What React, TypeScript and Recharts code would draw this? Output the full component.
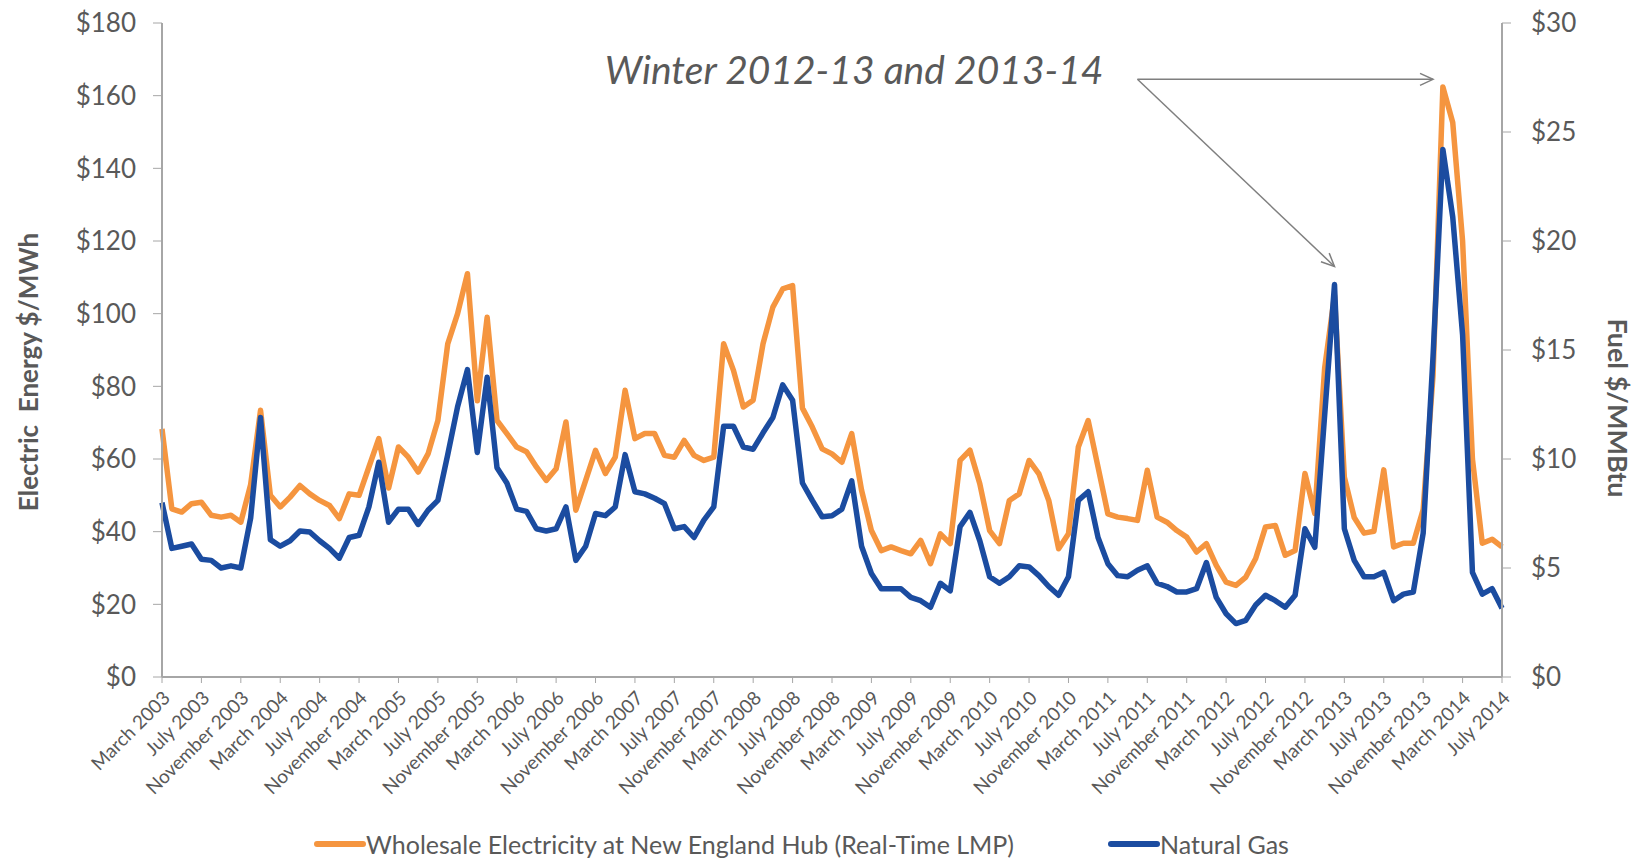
import React from "react";
import { LineChart, Line, XAxis, YAxis, ReferenceLine, Legend } from "recharts";

const MONTH_NAMES = [
  "January", "February", "March", "April", "May", "June",
  "July", "August", "September", "October", "November", "December",
];

// monthly, March 2003 .. July 2014
const FIRST_YEAR = 2003;
const FIRST_MONTH = 2; // March
const MONTH_COUNT = 137;

const ELECTRICITY = [
  68.3, 46.3, 45.4, 47.7, 48.1, 44.5, 44, 44.5, 42.6, 53,
  73.4, 50, 46.8, 49.5, 52.7, 50.4, 48.6, 47.2, 43.6, 50.4,
  50, 57.8, 65.6, 52, 63.3, 60.5, 56.4, 61.4, 70.6, 91.7,
  100, 111, 76, 99, 70.6, 67, 63.3, 62, 57.8, 54.1,
  57.3, 70.2, 45.9, 54.1, 62.4, 56, 60.5, 78.9, 65.6, 67,
  67, 61, 60.5, 65.1, 61, 59.6, 60.5, 91.7, 84.4, 74.3,
  76.2, 91.7, 101.8, 106.8, 107.7, 74, 68.8, 62.8, 61.4, 59.1,
  67, 51.4, 40.3, 34.8, 35.8, 34.8, 33.9, 37.6, 31.2, 39.4,
  36.7, 59.6, 62.4, 53.2, 40.3, 36.7, 48.6, 50.4, 59.6, 55.9,
  48.6, 35.3, 39.4, 63.3, 70.6, 57.8, 44.9, 44, 43.6, 43.1,
  56.9, 44, 42.6, 40.3, 38.5, 34.4, 36.7, 30.7, 26.1, 25.2,
  27.5, 32.6, 41.3, 41.7, 33.5, 34.8, 56, 45, 85, 105,
  55, 43.9, 39.6, 40.1, 57, 35.8, 36.8, 36.8, 46.1, 83,
  162.4, 152.6, 120, 60, 36.8, 37.9, 35.8,
];

const NATURAL_GAS = [
  8.0, 5.9, 6.0, 6.1, 5.4, 5.35, 5.0, 5.1, 5.0, 7.3,
  11.9, 6.3, 6.0, 6.25, 6.7, 6.65, 6.25, 5.9, 5.45, 6.4,
  6.5, 7.8, 9.85, 7.1, 7.7, 7.7, 7.0, 7.65, 8.1, 10.2,
  12.4, 14.1, 10.3, 13.75, 9.6, 8.9, 7.7, 7.6, 6.8, 6.7,
  6.8, 7.8, 5.35, 6.0, 7.5, 7.4, 7.8, 10.2, 8.5, 8.4,
  8.2, 7.95, 6.8, 6.9, 6.4, 7.2, 7.8, 11.5, 11.5, 10.55,
  10.45, 11.2, 11.9, 13.4, 12.7, 8.9, 8.1, 7.35, 7.4, 7.7,
  9.0, 6.0, 4.75, 4.05, 4.05, 4.05, 3.65, 3.5, 3.2, 4.3,
  3.95, 6.9, 7.55, 6.25, 4.6, 4.3, 4.6, 5.1, 5.05, 4.65,
  4.15, 3.75, 4.6, 8.1, 8.5, 6.4, 5.2, 4.65, 4.6, 4.9,
  5.1, 4.3, 4.15, 3.9, 3.9, 4.05, 5.25, 3.65, 2.9, 2.45,
  2.6, 3.3, 3.75, 3.5, 3.2, 3.75, 6.8, 5.95, 12.0, 18.0,
  6.8, 5.35, 4.6, 4.6, 4.8, 3.5, 3.8, 3.9, 6.6, 14.7,
  24.2, 21.1, 15.7, 4.8, 3.8, 4.05, 3.15,
];

const TICK_LABELS = [
  "March 2003", "July 2003", "November 2003",
  "March 2004", "July 2004", "November 2004",
  "March 2005", "July 2005", "November 2005",
  "March 2006", "July 2006", "November 2006",
  "March 2007", "July 2007", "November 2007",
  "March 2008", "July 2008", "November 2008",
  "March 2009", "July 2009", "November 2009",
  "March 2010", "July 2010", "November 2010",
  "March 2011", "July 2011", "November 2011",
  "March 2012", "July 2012", "November 2012",
  "March 2013", "July 2013", "November 2013",
  "March 2014", "July 2014",
];

const LEFT_TICKS = [0, 20, 40, 60, 80, 100, 120, 140, 160, 180];
const RIGHT_TICKS = [0, 5, 10, 15, 20, 25, 30];

const ELEC_NAME = "Wholesale Electricity at New England Hub (Real-Time LMP)";
const GAS_NAME = "Natural Gas";
const LEGEND_ORDER = [ELEC_NAME, GAS_NAME];

const ORANGE = "#F5953F";
const BLUE = "#1B4CA0";
const GREY = "#595959";
const AXIS = "#A6A6A6";
const FONT = "Lato, 'Open Sans', sans-serif";

const months = Array.from({ length: MONTH_COUNT }, (_, i) => {
  const m = FIRST_MONTH + i;
  return `${MONTH_NAMES[m % 12]} ${FIRST_YEAR + Math.floor(m / 12)}`;
});

const data = months.map((month, i) => ({
  month,
  lmp: ELECTRICITY[i],
  gas: NATURAL_GAS[i],
}));

function MonthTick({ x, y, payload }: any) {
  return (
    <g transform={`translate(${x + 4},${y + 9})`}>
      <text
        x={0}
        y={0}
        textAnchor="end"
        dominantBaseline="central"
        transform="rotate(-45)"
        fontSize={19}
        fontFamily={FONT}
        fill={GREY}
      >
        {payload.value}
      </text>
    </g>
  );
}

function LegendRow({ payload }: any) {
  const items = [...(payload || [])].sort(
    (a: any, b: any) => LEGEND_ORDER.indexOf(a.value) - LEGEND_ORDER.indexOf(b.value)
  );
  return (
    <div style={{ display: "flex", alignItems: "center", marginLeft: 314, height: 30 }}>
      {items.map((entry: any, i: number) => (
        <div key={entry.value} style={{ display: "flex", alignItems: "center", marginRight: i === 0 ? 94 : 0 }}>
          <div style={{ width: 52, height: 6, borderRadius: 3, background: entry.color }} />
          <span style={{ fontFamily: FONT, fontSize: 25, color: GREY, whiteSpace: "nowrap" }}>
            {entry.value}
          </span>
        </div>
      ))}
    </div>
  );
}

export default function App() {
  return (
    <div style={{ position: "absolute", left: 0, top: 0, width: 1639, height: 859, background: "#fff" }}>
      <LineChart width={1639} height={859} data={data} margin={{ top: 23, right: 0, bottom: 0, left: 0 }}>
        <defs>
          <marker
            id="openArrow"
            markerWidth={16}
            markerHeight={16}
            refX={14}
            refY={7}
            orient="auto"
            markerUnits="userSpaceOnUse"
          >
            <path d="M1,1 L14,7 L1,13" fill="none" stroke="#7F7F7F" strokeWidth={1.5} />
          </marker>
        </defs>
        <XAxis
          dataKey="month"
          ticks={TICK_LABELS}
          interval={0}
          height={152}
          tick={<MonthTick />}
          tickSize={6}
          tickLine={{ stroke: AXIS }}
          axisLine={{ stroke: AXIS, strokeWidth: 2 }}
        />
        <YAxis
          yAxisId="left"
          domain={[0, 180]}
          ticks={LEFT_TICKS}
          width={162}
          tickSize={9}
          tickMargin={17}
          tickFormatter={(v) => `$${v}`}
          tick={{ fill: GREY, fontSize: 26, fontFamily: FONT }}
          tickLine={{ stroke: AXIS }}
          axisLine={{ stroke: AXIS, strokeWidth: 2 }}
          label={{
            content: ({ viewBox }: any) => (
              <text
                transform={`translate(${viewBox.x + 28},${viewBox.y + viewBox.height / 2 + 22}) rotate(-90)`}
                textAnchor="middle"
                dominantBaseline="central"
                fontSize={26}
                fontWeight={700}
                fontFamily={FONT}
                fill={GREY}
                style={{ whiteSpace: "pre" }}
              >
                {"Electric  Energy $/MWh"}
              </text>
            ),
          }}
        />
        <YAxis
          yAxisId="right"
          orientation="right"
          domain={[0, 30]}
          ticks={RIGHT_TICKS}
          width={137}
          tickSize={9}
          tickMargin={20}
          tickFormatter={(v) => `$${v}`}
          tick={{ fill: GREY, fontSize: 26, fontFamily: FONT, textAnchor: "start" }}
          tickLine={{ stroke: AXIS }}
          axisLine={{ stroke: AXIS, strokeWidth: 2 }}
          label={{
            content: ({ viewBox }: any) => (
              <text
                transform={`translate(${viewBox.x + 116},${viewBox.y + viewBox.height / 2 + 58}) rotate(90)`}
                textAnchor="middle"
                dominantBaseline="central"
                fontSize={27}
                fontWeight={700}
                fontFamily={FONT}
                fill={GREY}
              >
                Fuel $/MMBtu
              </text>
            ),
          }}
        />
        <Line
          yAxisId="left"
          dataKey="lmp"
          name={ELEC_NAME}
          stroke={ORANGE}
          strokeWidth={5.5}
          strokeLinejoin="round"
          dot={false}
          isAnimationActive={false}
        />
        <Line
          yAxisId="right"
          dataKey="gas"
          name={GAS_NAME}
          stroke={BLUE}
          strokeWidth={5.5}
          strokeLinejoin="round"
          dot={false}
          isAnimationActive={false}
        />
        <ReferenceLine
          yAxisId="left"
          segment={[
            { x: months[99], y: 164.5 },
            { x: months[129], y: 164.5 },
          ]}
          stroke="#7F7F7F"
          strokeWidth={1.5}
          markerEnd="url(#openArrow)"
          label={{
            content: ({ viewBox }: any) => (
              <text
                x={viewBox.x - 34}
                y={viewBox.y + 5}
                textAnchor="end"
                fontSize={39}
                fontStyle="italic"
                fontFamily={FONT}
                fill={GREY}
              >
                Winter 2012-13 and 2013-14
              </text>
            ),
          }}
        />
        <ReferenceLine
          yAxisId="left"
          segment={[
            { x: months[99], y: 164.5 },
            { x: months[119], y: 113 },
          ]}
          stroke="#7F7F7F"
          strokeWidth={1.5}
          markerEnd="url(#openArrow)"
        />
        <Legend
          verticalAlign="bottom"
          align="left"
          height={30}
          wrapperStyle={{ left: 0, width: 1639 }}
          content={<LegendRow />}
        />
      </LineChart>
    </div>
  );
}
